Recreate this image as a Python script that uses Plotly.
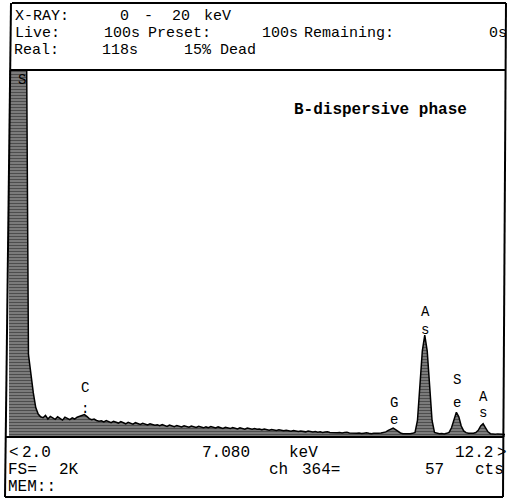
import plotly.graph_objects as go

W, H = 513, 498

# ---- data: EDS spectrum, counts per 0.05 keV channel from 2.00 to 12.20 keV ----
E_START = 2.0
E_STEP = 0.05
counts = [
    # 2.00 - 2.35 (S peak, off scale)
    2600, 2600, 2600, 2600, 2600, 2600, 2600, 2600,
    # 2.40 - 2.65
    450, 330, 240, 160, 125, 110,
    # 2.70 - 3.85
    105, 118, 98, 112, 104, 96, 110, 102, 92, 108, 100, 95,
    104, 98, 108, 112, 118, 122, 112, 100, 94, 98, 90, 86,
    # 3.90 - 5.00
    88, 82, 90, 84, 78, 86, 80, 76, 84, 78, 72, 80, 76, 70, 78, 74,
    68, 75, 70, 66, 72, 68, 64,
    # 5.05 - 6.00
    66, 62, 68, 64, 58, 65, 60, 56, 63, 59, 55, 61, 57, 53, 60, 56, 52, 58, 54, 50,
    # 6.05 - 7.00
    55, 51, 57, 52, 49, 55, 50, 47, 53, 48, 46, 52, 47, 44, 50, 46, 43, 49, 45, 42,
    # 7.05 - 8.00
    46, 42, 44, 40, 43, 39, 37, 41, 38, 35, 39, 36, 34, 37, 33, 31, 35, 32, 30, 33,
    # 8.05 - 9.00
    30, 28, 32, 29, 27, 30, 26, 28, 25, 27, 29, 25, 24, 27, 23, 25, 22, 24, 26, 22,
    # 9.05 - 9.70
    21, 23, 20, 22, 19, 21, 23, 20, 18, 21, 19, 20, 22, 24,
    # 9.75 - 10.05 (Ge)
    28, 36, 44, 48, 40, 30, 22,
    # 10.10 - 10.30
    18, 17, 19, 18, 20,
    # 10.35 - 10.75 (As Ka)
    25, 90, 280, 470, 555, 470, 280, 90, 25,
    # 10.80 - 11.00
    20, 18, 19, 17, 20,
    # 11.05 - 11.40 (Se Ka)
    25, 50, 100, 135, 110, 60, 33, 24,
    # 11.45 - 11.55
    20, 19, 21,
    # 11.60 - 11.90 (As Kb)
    24, 36, 60, 72, 50, 28, 18,
    # 11.95 - 12.20
    16, 15, 17, 14, 15, 14,
]
energy = [round(E_START + E_STEP * i, 3) for i in range(len(counts))]

X_RANGE = [2.0, 12.2]
FULL_SCALE = 2000

# peak labels: (energy keV, counts position, text)
peak_labels = [
    (2.27, 1946, "S"),
    (3.56, 267, "C"), (3.56, 150, ":"),
    (9.92, 185, "G"), (9.92, 93, "e"),
    (10.555, 681, "A"), (10.555, 583, "s"),
    (11.21, 311, "S"), (11.21, 185, "e"),
    (11.75, 218, "A"), (11.75, 131, "s"),
]

# header / footer text: (x px, y px, text)
header_texts = [
    (13, 17, "X-RAY:"), (118, 17, "0"), (142, 17, "-"), (170, 17, "20"), (202, 17, "keV"),
    (13, 33, "Live:"), (102, 33, "100s"), (146, 33, "Preset:"), (260, 33, "100s"),
    (302, 33, "Remaining:"), (487, 33, "0s"),
    (12, 50, "Real:"), (100, 50, "118s"), (182, 50, "15% Dead"),
]
footer_texts = [
    (7, 453, "<"), (20, 453, "2.0"), (200, 453, "7.080"), (287, 453, "keV"),
    (453, 453, "12.2"), (495, 453, ">"),
    (6, 470, "FS="), (57, 470, "2K"), (267, 470, "ch"), (300, 470, "364="),
    (423, 470, "57"), (473, 470, "cts"),
    (6, 487, "MEM::"),
]


def px(x):
    return x / W


def py(y):
    return 1 - y / H


fig = go.Figure()
fig.add_trace(go.Scatter(
    x=energy, y=counts, mode="lines",
    line=dict(color="black", width=1.5),
    fill="tozeroy",
    fillpattern=dict(shape="-", fgcolor="black", bgcolor="#9a9a9a", size=3, solidity=0.6),
    hoverinfo="skip",
))

ann = []
for e, c, t in peak_labels:
    ann.append(dict(x=e, y=c, xref="x", yref="y", text=t, showarrow=False,
                    font=dict(family="Liberation Mono", size=14, color="black")))
for x, y, t in header_texts:
    ann.append(dict(x=px(x), y=py(y), xref="paper", yref="paper", text=t, showarrow=False,
                    xanchor="left", yanchor="middle",
                    font=dict(family="Liberation Mono", size=15, color="black")))
for x, y, t in footer_texts:
    ann.append(dict(x=px(x), y=py(y), xref="paper", yref="paper", text=t, showarrow=False,
                    xanchor="left", yanchor="middle",
                    font=dict(family="Liberation Mono", size=16, color="black")))
ann.append(dict(x=px(292), y=py(110), xref="paper", yref="paper",
                text="<b>B-dispersive phase</b>", showarrow=False,
                xanchor="left", yanchor="middle",
                font=dict(family="Liberation Mono", size=16, color="black")))

line = dict(color="black", width=2)
shapes = [
    dict(type="line", xref="paper", yref="paper", x0=px(12), y0=py(3), x1=px(506), y1=py(3), line=line),
    dict(type="line", xref="paper", yref="paper", x0=px(11), y0=py(3), x1=px(5), y1=py(497), line=line),
    dict(type="line", xref="paper", yref="paper", x0=px(506), y0=py(3), x1=px(503), y1=py(497), line=line),
    dict(type="line", xref="paper", yref="paper", x0=px(10), y0=py(70), x1=px(506), y1=py(70), line=line),
    dict(type="line", xref="paper", yref="paper", x0=px(6), y0=py(437), x1=px(504), y1=py(437), line=line),
    dict(type="line", xref="paper", yref="paper", x0=px(5), y0=py(497), x1=px(503), y1=py(497), line=line),
]

fig.update_layout(
    width=W, height=H,
    margin=dict(l=0, r=0, t=0, b=0),
    paper_bgcolor="white", plot_bgcolor="white",
    showlegend=False,
    xaxis=dict(range=X_RANGE, domain=[px(9), px(505)], visible=False, fixedrange=True),
    yaxis=dict(range=[0, FULL_SCALE], domain=[py(437), py(70)], visible=False, fixedrange=True),
    annotations=ann, shapes=shapes,
)

fig.write_html("out.html")
